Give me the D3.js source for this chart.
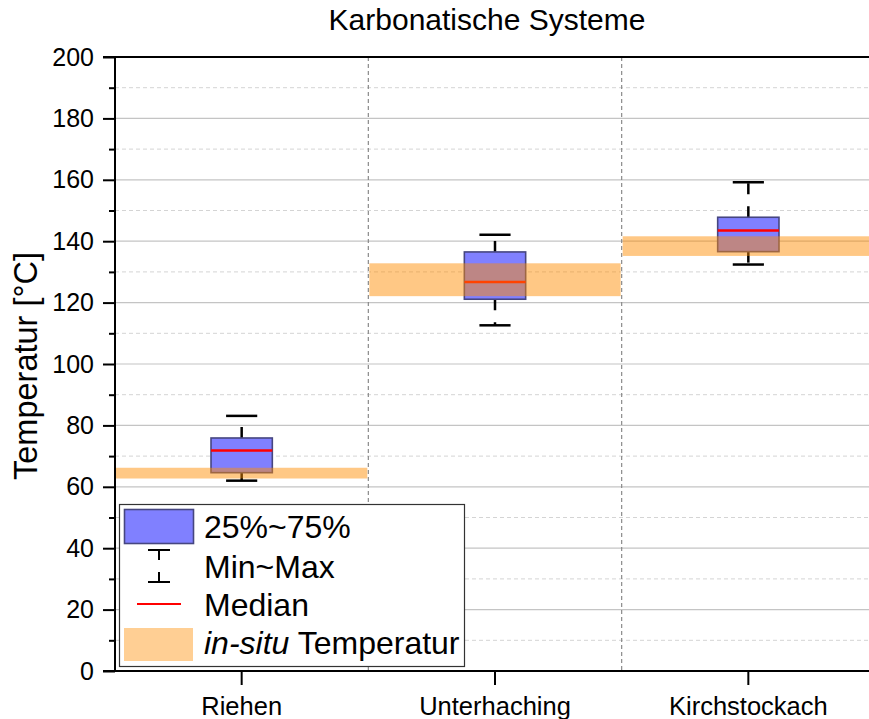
<!DOCTYPE html>
<html>
<head>
<meta charset="utf-8">
<script src="https://cdn.jsdelivr.net/npm/d3@7"></script>
<style>
  html, body { margin: 0; padding: 0; background: #fff; }
  svg { display: block; font-family: "Liberation Sans", Arial, sans-serif; }
</style>
</head>
<body>
<svg id="chart" width="869" height="719"></svg>
<script>
// ---- data ----
const categories = ["Riehen", "Unterhaching", "Kirchstockach"];
const q1Values     = [64.6, 121.1, 136.6];
const q3Values     = [75.9, 136.5, 147.8];
const medianValues = [71.8, 126.7, 143.5];
const minValues    = [62.0, 112.6, 132.4];
const maxValues    = [83.1, 142.1, 159.2];
const insituLow    = [62.7, 122.1, 135.2];
const insituHigh   = [66.2, 132.8, 141.6];
const majorTicks = [0, 20, 40, 60, 80, 100, 120, 140, 160, 180, 200];
const minorTicks = [10, 30, 50, 70, 90, 110, 130, 150, 170, 190];
const legendLabels = ["25%~75%", "Min~Max", "Median", "Temperatur"];

const svg = d3.select("#chart");
const W = 869, H = 719;
const pLeft = 115, pRight = 875, pTop = 57, pBottom = 671;

const x = d3.scaleBand().domain(categories).range([pLeft, pRight]).paddingInner(0).paddingOuter(0);
const y = d3.scaleLinear().domain([0, 200]).range([pBottom, pTop]);

const boxW = x.bandwidth() * 0.242;
const capW = x.bandwidth() * 0.123;

// grid
const grid = svg.append("g");
grid.selectAll("line.minor").data(minorTicks).join("line")
  .attr("x1", pLeft).attr("x2", W).attr("y1", d => y(d)).attr("y2", d => y(d))
  .attr("stroke", "#d4d4d4").attr("stroke-width", 1).attr("stroke-dasharray", "4,3");
grid.selectAll("line.major").data(majorTicks.filter(d => d > 0 && d < 200)).join("line")
  .attr("x1", pLeft).attr("x2", W).attr("y1", d => y(d)).attr("y2", d => y(d))
  .attr("stroke", "#c4c4c4").attr("stroke-width", 1.2);
// category separators
grid.selectAll("line.sep").data(categories.slice(1)).join("line")
  .attr("x1", d => x(d)).attr("x2", d => x(d)).attr("y1", pTop).attr("y2", pBottom)
  .attr("stroke", "#8a8a8a").attr("stroke-width", 1.2).attr("stroke-dasharray", "4,3");

// boxes
const idx = categories.map((c, i) => i);
const g = svg.append("g");
const cx = i => x(categories[i]) + x.bandwidth() / 2;

// whiskers (dashed from box outwards)
g.selectAll("line.wup").data(idx).join("line")
  .attr("x1", cx).attr("x2", cx)
  .attr("y1", i => y(q3Values[i])).attr("y2", i => y(maxValues[i]))
  .attr("stroke", "#000").attr("stroke-width", 2.5).attr("stroke-dasharray", "11,12");
g.selectAll("line.wdn").data(idx).join("line")
  .attr("x1", cx).attr("x2", cx)
  .attr("y1", i => y(q1Values[i])).attr("y2", i => y(minValues[i]))
  .attr("stroke", "#000").attr("stroke-width", 2.5).attr("stroke-dasharray", "11,12");
g.selectAll("line.capup").data(idx).join("line")
  .attr("x1", i => cx(i) - capW / 2).attr("x2", i => cx(i) + capW / 2)
  .attr("y1", i => y(maxValues[i])).attr("y2", i => y(maxValues[i]))
  .attr("stroke", "#000").attr("stroke-width", 2.5);
g.selectAll("line.capdn").data(idx).join("line")
  .attr("x1", i => cx(i) - capW / 2).attr("x2", i => cx(i) + capW / 2)
  .attr("y1", i => y(minValues[i])).attr("y2", i => y(minValues[i]))
  .attr("stroke", "#000").attr("stroke-width", 2.5);

g.selectAll("rect.box").data(idx).join("rect")
  .attr("x", i => cx(i) - boxW / 2).attr("width", boxW)
  .attr("y", i => y(q3Values[i])).attr("height", i => y(q1Values[i]) - y(q3Values[i]))
  .attr("fill", "#8080ff").attr("stroke", "#464680").attr("stroke-width", 1.6);
g.selectAll("line.med").data(idx).join("line")
  .attr("x1", i => cx(i) - boxW / 2).attr("x2", i => cx(i) + boxW / 2)
  .attr("y1", i => y(medianValues[i])).attr("y2", i => y(medianValues[i]))
  .attr("stroke", "#ff0000").attr("stroke-width", 2.6);

// in-situ bands on top
g.selectAll("rect.band").data(idx).join("rect")
  .attr("x", i => x(categories[i]) + 1).attr("width", x.bandwidth() - 2)
  .attr("y", i => y(insituHigh[i])).attr("height", i => y(insituLow[i]) - y(insituHigh[i]))
  .attr("fill", "#ff8c00").attr("fill-opacity", 0.48);

// axes
const yAxis = svg.append("g").attr("transform", `translate(${pLeft},0)`)
  .call(d3.axisLeft(y).tickValues(majorTicks).tickSize(12).tickPadding(9).tickFormat(d3.format("d")));
yAxis.select(".domain").remove();
yAxis.selectAll(".tick line").attr("stroke", "#000").attr("stroke-width", 2);
yAxis.selectAll(".tick text").attr("font-size", 25).attr("fill", "#000")
  .attr("font-family", "Liberation Sans, Arial, sans-serif");
const yMinor = svg.append("g").attr("transform", `translate(${pLeft},0)`)
  .call(d3.axisLeft(y).tickValues(minorTicks).tickSize(6).tickFormat(""));
yMinor.select(".domain").remove();
yMinor.selectAll(".tick line").attr("stroke", "#000").attr("stroke-width", 2);

const xAxis = svg.append("g").attr("transform", `translate(0,${pBottom})`)
  .call(d3.axisBottom(x).tickSize(14).tickPadding(12));
xAxis.select(".domain").remove();
xAxis.selectAll(".tick line").attr("stroke", "#000").attr("stroke-width", 2);
xAxis.selectAll(".tick text").attr("font-size", 25.5).attr("fill", "#000")
  .attr("font-family", "Liberation Sans, Arial, sans-serif");

// frame lines
svg.append("line").attr("x1", pLeft).attr("x2", pLeft).attr("y1", pTop - 1).attr("y2", pBottom + 1)
  .attr("stroke", "#000").attr("stroke-width", 2);
svg.append("line").attr("x1", pLeft - 12).attr("x2", W).attr("y1", pBottom).attr("y2", pBottom)
  .attr("stroke", "#000").attr("stroke-width", 2);
svg.append("line").attr("x1", pLeft - 12).attr("x2", W).attr("y1", pTop).attr("y2", pTop)
  .attr("stroke", "#000").attr("stroke-width", 2);

// title & label
svg.append("text").attr("x", 487).attr("y", 30).attr("text-anchor", "middle")
  .attr("font-size", 30).attr("fill", "#000").text("Karbonatische Systeme");
svg.append("text").attr("transform", `translate(37,${(pTop + pBottom) / 2 + 2}) rotate(-90)`)
  .attr("text-anchor", "middle").attr("font-size", 32.5).attr("fill", "#000").text("Temperatur [°C]");

// legend
const lg = svg.append("g");
lg.append("rect").attr("x", 119.5).attr("y", 504.5).attr("width", 345).attr("height", 162)
  .attr("fill", "#fff").attr("stroke", "#333").attr("stroke-width", 1.2);
lg.append("rect").attr("x", 124.5).attr("y", 509.5).attr("width", 69).attr("height", 34)
  .attr("fill", "#8080ff").attr("stroke", "#464680").attr("stroke-width", 1.6);
const lx = 159;
lg.append("line").attr("x1", lx - 11).attr("x2", lx + 11).attr("y1", 550).attr("y2", 550).attr("stroke", "#000").attr("stroke-width", 2);
lg.append("line").attr("x1", lx).attr("x2", lx).attr("y1", 550).attr("y2", 560).attr("stroke", "#000").attr("stroke-width", 2);
lg.append("line").attr("x1", lx).attr("x2", lx).attr("y1", 572).attr("y2", 582).attr("stroke", "#000").attr("stroke-width", 2);
lg.append("line").attr("x1", lx - 11).attr("x2", lx + 11).attr("y1", 582).attr("y2", 582).attr("stroke", "#000").attr("stroke-width", 2);
lg.append("line").attr("x1", 137).attr("x2", 181).attr("y1", 604).attr("y2", 604).attr("stroke", "#ff0000").attr("stroke-width", 2);
lg.append("rect").attr("x", 124).attr("y", 628).attr("width", 69).attr("height", 33)
  .attr("fill", "#ff8c00").attr("fill-opacity", 0.42);
const ltx = 204;
const lfs = 32;
lg.append("text").attr("x", ltx).attr("y", 538).attr("font-size", lfs).text(legendLabels[0]);
lg.append("text").attr("x", ltx).attr("y", 578).attr("font-size", lfs).text(legendLabels[1]);
lg.append("text").attr("x", ltx).attr("y", 616).attr("font-size", lfs).text(legendLabels[2]);
const t4 = lg.append("text").attr("x", ltx).attr("y", 654).attr("font-size", lfs);
t4.append("tspan").attr("font-style", "italic").text("in-situ");
t4.append("tspan").text(" " + legendLabels[3]);
</script>
</body>
</html>
